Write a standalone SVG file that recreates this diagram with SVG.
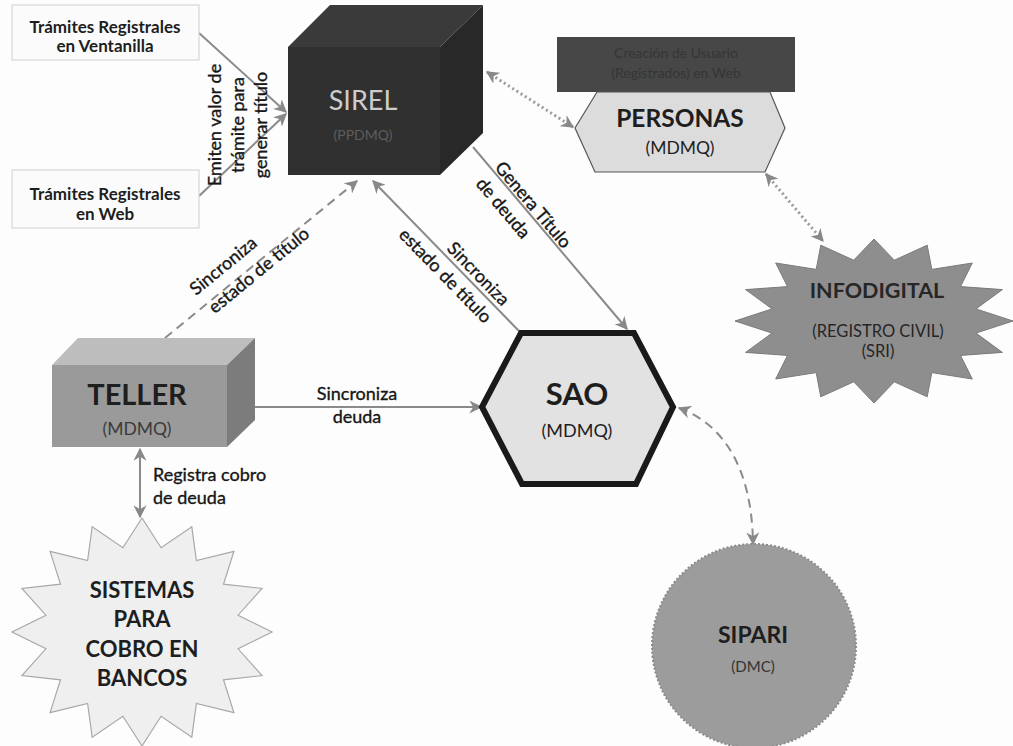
<svg xmlns="http://www.w3.org/2000/svg" width="1013" height="746" viewBox="0 0 1013 746">
<defs>
<style>
.t{font-family:Lato,"Liberation Sans",sans-serif;fill:#1e1e1e}
.b{font-weight:bold}
.c{text-anchor:middle}
.lbl{font-family:Lato,"Liberation Sans",sans-serif;font-size:18px;fill:#161616;stroke:#161616;stroke-width:0.35}
.con{fill:none;stroke:#8a8a8a;stroke-width:2}
.dash{stroke-dasharray:9 6}
.dot{stroke-dasharray:2 3;stroke-width:3;stroke:#9a9a9a}
.box{fill:#fbfbfb;stroke:#cfcfcf;stroke-width:1}
</style>
<marker id="arr" viewBox="0 0 10 10" refX="9" refY="5" markerWidth="13" markerHeight="13" markerUnits="userSpaceOnUse" orient="auto-start-reverse">
<path d="M0,0 L10,5 L0,10 L3,5 z" fill="#888"/>
</marker>
</defs>
<rect width="1013" height="746" fill="#fdfdfd"/>

<g id="connectors">
<line class="con" x1="199" y1="33" x2="286" y2="112" marker-end="url(#arr)"/>
<line class="con" x1="199" y1="196" x2="286" y2="114" marker-end="url(#arr)"/>
<line class="con dot" x1="487" y1="72" x2="573" y2="127" marker-start="url(#arr)" marker-end="url(#arr)"/>
<line class="con dot" x1="766" y1="174" x2="823" y2="241" marker-start="url(#arr)" marker-end="url(#arr)"/>
<line class="con" x1="473" y1="147" x2="627" y2="329" marker-end="url(#arr)"/>
<line class="con" x1="519" y1="331" x2="373" y2="181" marker-end="url(#arr)"/>
<line class="con dash" x1="165" y1="338" x2="357" y2="181" marker-end="url(#arr)"/>
<line class="con" x1="255" y1="407" x2="481" y2="407" marker-end="url(#arr)"/>
<line class="con" x1="140" y1="449" x2="140" y2="517" marker-start="url(#arr)" marker-end="url(#arr)"/>
<path class="con dash" d="M679,408 C725,425 752,470 753,544" marker-start="url(#arr)" marker-end="url(#arr)"/>

<text class="lbl" transform="translate(244,125) rotate(-90)" text-anchor="middle" font-size="16"><tspan x="0" y="-23">Emiten valor de</tspan><tspan x="0" y="0">trámite para</tspan><tspan x="0" y="23">generar título</tspan></text>
<text class="lbl" transform="translate(494,168) rotate(49.7)"><tspan x="0" y="0">Genera Título</tspan><tspan x="0" y="25">de deuda</tspan></text>
<text class="lbl" transform="translate(502,307) rotate(45.8)" text-anchor="end"><tspan x="0" y="0">Sincroniza</tspan><tspan x="0" y="25">estado de título</tspan></text>
<text class="lbl" transform="translate(196,296) rotate(-39.3)"><tspan x="0" y="0">Sincroniza</tspan><tspan x="3" y="26">estado de título</tspan></text>
<text class="lbl" text-anchor="middle"><tspan x="357" y="400">Sincroniza</tspan><tspan x="357" y="423">deuda</tspan></text>
<text class="lbl"><tspan x="153" y="481">Registra cobro</tspan><tspan x="153" y="504">de deuda</tspan></text>
</g>

<g id="ventanilla">
<rect class="box" x="12" y="5" width="187" height="55"/>
<text class="t b c" font-size="17"><tspan x="105" y="33">Trámites Registrales</tspan><tspan x="105" y="52">en Ventanilla</tspan></text>
</g>

<g id="web">
<rect class="box" x="12" y="170" width="187" height="58"/>
<text class="t b c" font-size="17"><tspan x="105" y="200">Trámites Registrales</tspan><tspan x="105" y="220">en Web</tspan></text>
</g>

<g id="sirel">
<polygon points="288,47 330,5 483,5 440,47" fill="#3a3a3a"/>
<polygon points="440,47 483,5 483,133 440,175" fill="#282828"/>
<rect x="288" y="47" width="152" height="128" fill="#303030"/>
<text class="t c" x="363" y="110" font-size="27" style="fill:#cdcdcd">SIREL</text>
<text class="t c" x="363" y="140" font-size="14" style="fill:#5e5e5e">(PPDMQ)</text>
</g>

<g id="personas">
<rect x="557" y="37" width="238" height="55" fill="#474747"/>
<text class="t c" font-size="14" style="fill:#353535"><tspan x="676" y="58">Creación de Usuario</tspan><tspan x="676" y="78">(Registrados) en Web</tspan></text>
<polygon points="575,128 597,92 770,92 785,128 765,172 595,172" fill="#dcdcdc" stroke="#555" stroke-width="1.2"/>
<text class="t b c" x="680" y="127" font-size="24.5">PERSONAS</text>
<text class="t c" x="680" y="154" font-size="17.5">(MDMQ)</text>
</g>

<g id="infodigital">
<polygon points="874,239 894.3,260.2 927.2,245.2 931.8,269.4 972.3,263 960.5,286.6 1002.4,289.6 976,308.9 1013,321 976,333.1 1002.4,352.4 960.5,355.4 972.3,379 931.8,372.6 927.2,396.8 894.3,381.8 874,403 853.7,381.8 820.8,396.8 816.2,372.6 775.7,379 787.5,355.4 745.6,352.4 772,333.1 735,321 772,308.9 745.6,289.6 787.5,286.6 775.7,263 816.2,269.4 820.8,245.2 853.7,260.2" fill="#8e8e8e" stroke="#7a7a7a" stroke-width="1"/>
<text class="t b c" x="877" y="298" font-size="21.5" style="fill:#262626">INFODIGITAL</text>
<text class="t c" x="878" y="337" font-size="16.5" style="fill:#262626">(REGISTRO CIVIL)</text>
<text class="t c" x="878" y="357" font-size="16.5" style="fill:#262626">(SRI)</text>
</g>

<g id="teller">
<polygon points="52,365 78,338 255,338 227,365" fill="#bdbdbd"/>
<polygon points="227,365 255,338 255,420 227,447" fill="#7c7c7c"/>
<rect x="52" y="365" width="175" height="82" fill="#9a9a9a"/>
<text class="t b c" x="137" y="405" font-size="29">TELLER</text>
<text class="t c" x="137" y="435" font-size="17.5" style="fill:#3a3a3a">(MDMQ)</text>
</g>

<g id="sao">
<polygon points="482,407 521,333 634,333 673,407 636,484 522,484" fill="#e2e2e2" stroke="#1a1a1a" stroke-width="6" stroke-linejoin="miter"/>
<text class="t b c" x="577" y="405" font-size="31">SAO</text>
<text class="t c" x="577" y="437" font-size="18">(MDMQ)</text>
</g>

<g id="sistemas">
<polygon points="142,518 161.1,547.7 191.8,526.7 196.4,560.5 233.9,551.4 223.5,584.2 262.1,588.4 238.1,615.2 272,632 238.1,648.8 262.1,675.6 223.5,679.8 233.9,712.6 196.4,703.5 191.8,737.3 161.1,716.3 142,746 122.9,716.3 92.2,737.3 87.6,703.5 50.1,712.6 60.5,679.8 21.9,675.6 45.9,648.8 12,632 45.9,615.2 21.9,588.4 60.5,584.2 50.1,551.4 87.6,560.5 92.2,526.7 122.9,547.7" fill="#efefef" stroke="#a8a8a8" stroke-width="1.2"/>
<text class="t b c" font-size="22"><tspan x="142" y="598">SISTEMAS</tspan><tspan x="142" y="627">PARA</tspan><tspan x="142" y="657">COBRO EN</tspan><tspan x="142" y="686">BANCOS</tspan></text>
</g>

<g id="sipari">
<circle cx="754" cy="646" r="102" fill="#9c9c9c" stroke="#8a8a8a" stroke-width="2" stroke-dasharray="2 2"/>
<text class="t b c" x="753" y="643" font-size="23">SIPARI</text>
<text class="t c" x="753" y="672" font-size="15" style="fill:#333">(DMC)</text>
</g>
</svg>
